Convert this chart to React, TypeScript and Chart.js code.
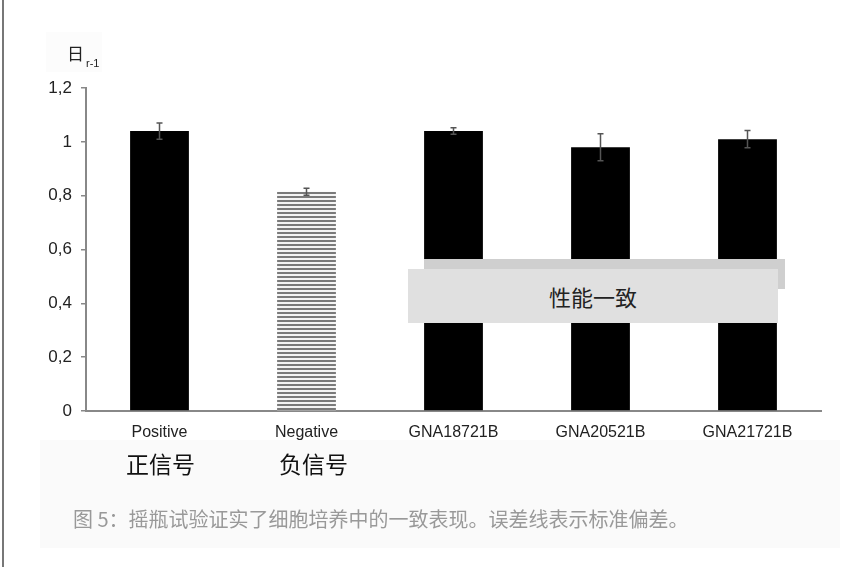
import { useEffect, useRef } from "react";
import { Chart, registerables } from "chart.js";

Chart.register(...registerables);

const categories = ["Positive", "Negative", "GNA18721B", "GNA20521B", "GNA21721B"];
const values = [1.04, 0.815, 1.04, 0.98, 1.01];
const errors = [0.03, 0.013, 0.012, 0.05, 0.032];
const yTicks = [0, 0.2, 0.4, 0.6, 0.8, 1, 1.2];

function makeStripes(): CanvasPattern | string {
  const c = document.createElement("canvas");
  c.width = 4;
  c.height = 4;
  const ctx = c.getContext("2d");
  if (!ctx) return "#888";
  ctx.fillStyle = "#f4f4f4";
  ctx.fillRect(0, 0, 4, 4);
  ctx.fillStyle = "#7a7a7a";
  ctx.fillRect(0, 0, 4, 2);
  return ctx.createPattern(c, "repeat") || "#888";
}

const errorBars = {
  id: "errorBars",
  afterDatasetsDraw(chart: Chart) {
    const { ctx } = chart;
    const x = chart.scales.x;
    const y = chart.scales.y;
    ctx.save();
    ctx.strokeStyle = "#555";
    ctx.lineWidth = 1.5;
    values.forEach((v, i) => {
      const px = x.getPixelForValue(i);
      const top = y.getPixelForValue(v + errors[i]);
      const bot = y.getPixelForValue(v - errors[i]);
      ctx.beginPath();
      ctx.moveTo(px, top);
      ctx.lineTo(px, bot);
      ctx.moveTo(px - 3, top);
      ctx.lineTo(px + 3, top);
      ctx.moveTo(px - 3, bot);
      ctx.lineTo(px + 3, bot);
      ctx.stroke();
    });
    ctx.restore();
  },
};

export default function App() {
  const canvasRef = useRef<HTMLCanvasElement | null>(null);
  const chartRef = useRef<Chart | null>(null);

  useEffect(() => {
    if (!canvasRef.current) return;
    chartRef.current?.destroy();
    const stripes = makeStripes();

    chartRef.current = new Chart(canvasRef.current, {
      type: "bar",
      data: {
        labels: categories,
        datasets: [
          {
            data: values,
            backgroundColor: values.map((_, i) => (i === 1 ? stripes : "#000")),
            borderWidth: 0,
            barPercentage: 0.4,
            categoryPercentage: 1,
          },
        ],
      },
      plugins: [errorBars],
      options: {
        animation: false,
        responsive: false,
        layout: { padding: { top: 88, right: 33, bottom: 0, left: 0 } },
        plugins: {
          legend: { display: false },
          tooltip: { enabled: false },
        },
        scales: {
          x: {
            grid: { display: false },
            border: { display: true, color: "#888", width: 2 },
            ticks: {
              color: "#222",
              padding: 4,
              font: { family: "Liberation Sans", size: 16 },
            },
            afterFit(scale: any) {
              scale.height = 156;
            },
          },
          y: {
            min: 0,
            max: 1.2,
            afterBuildTicks(scale: any) {
              scale.ticks = yTicks.map((v) => ({ value: v }));
            },
            grid: {
              display: true,
              drawOnChartArea: false,
              tickLength: 5,
              color: "#888",
              lineWidth: 1.5,
            },
            border: { display: true, color: "#888", width: 2 },
            ticks: {
              color: "#222",
              padding: 9,
              font: { family: "Liberation Sans", size: 17 },
              callback: (v: any) => String(Math.round(Number(v) * 10) / 10).replace(".", ","),
            },
            afterFit(scale: any) {
              scale.width = 86;
            },
          },
        },
      },
    });

    return () => {
      chartRef.current?.destroy();
      chartRef.current = null;
    };
  }, []);

  const abs = (s: React.CSSProperties): React.CSSProperties => ({ position: "absolute", ...s });

  return (
    <div style={{ position: "absolute", left: 0, top: 0, width: 854, height: 567, background: "#fff", overflow: "hidden" }}>
      <div style={abs({ left: 40, top: 440, width: 800, height: 108, background: "#fafafa" })} />
      <div style={abs({ left: 46, top: 32, width: 56, height: 40, background: "#fcfcfc" })} />
      <canvas ref={canvasRef} width={854} height={567} style={abs({ left: 0, top: 0, width: 854, height: 567 })} />
      <div style={abs({ left: 2, top: 0, width: 2, height: 567, background: "#777" })} />
      <div style={abs({ left: 67, top: 43, fontFamily: "Noto Sans CJK SC", fontSize: 17, color: "#222", lineHeight: "20px" })}>
        日<span style={{ fontFamily: "Liberation Sans", fontSize: 11, position: "relative", top: 7, left: 2 }}>r-1</span>
      </div>
      <div style={abs({ left: 424, top: 259, width: 361, height: 30, background: "#cfcfcf" })} />
      <div
        style={abs({
          left: 408,
          top: 269,
          width: 370,
          height: 54,
          background: "#e0e0e0",
          display: "flex",
          alignItems: "center",
          justifyContent: "center",
          fontFamily: "Noto Sans CJK SC",
          fontSize: 22,
          color: "#222",
        })}
      >
        性能一致
      </div>
      <div style={abs({ left: 126, top: 448, fontFamily: "Noto Sans CJK SC", fontSize: 23, color: "#111", lineHeight: "30px" })}>正信号</div>
      <div style={abs({ left: 279, top: 448, fontFamily: "Noto Sans CJK SC", fontSize: 23, color: "#111", lineHeight: "30px" })}>负信号</div>
      <div style={abs({ left: 73, top: 504, fontFamily: "Noto Sans CJK SC", fontSize: 20, color: "#999", lineHeight: "30px", whiteSpace: "nowrap" })}>
        图 5：摇瓶试验证实了细胞培养中的一致表现。误差线表示标准偏差。
      </div>
    </div>
  );
}
